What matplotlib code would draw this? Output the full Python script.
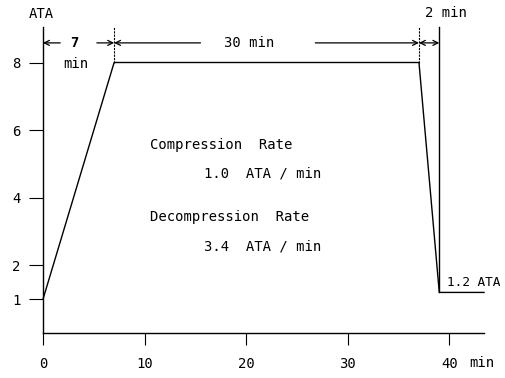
import numpy as np
import matplotlib
matplotlib.use("Agg")
import matplotlib.pyplot as plt

# pressure profile (minutes, ATA)
time_pts = [0, 7, 37, 39, 43.4]
ata_pts = [1, 8, 8, 1.2, 1.2]

x_ticks = [0, 10, 20, 30, 40]
x_ticklabels = ["0", "10", "20", "30", "40"]
y_ticks = [1, 2, 4, 6, 8]
y_ticklabels = ["1", "2", "4", "6", "8"]

# phase boundaries for the dimension arrows
phase_edges = [0, 7, 37, 39]
dim_y = 8.58

plt.rcParams['font.family'] = ['DejaVu Sans Mono']
plt.rcParams['font.size'] = 10

fig = plt.figure(figsize=(5.05, 3.78), dpi=100)
ax = fig.add_axes([43 / 505, 1 - 333 / 378, 441 / 505, 306 / 378])
ax.set_xlim(0, 43.4)
ax.set_ylim(0, 9.05)

for s in ['top', 'right']:
    ax.spines[s].set_visible(False)
ax.spines['left'].set_linewidth(1.0)
ax.spines['bottom'].set_linewidth(1.0)

ax.set_xticks(x_ticks)
ax.set_xticklabels(x_ticklabels)
ax.set_yticks(y_ticks)
ax.set_yticklabels(y_ticklabels)
ax.tick_params(axis='x', direction='out', length=8.5, width=0.8, pad=9)
ax.tick_params(axis='y', direction='out', length=10, width=0.8, pad=6)

# profile
ax.plot(time_pts, ata_pts, color='black', lw=1.0, clip_on=False)

# boundary lines at top
ax.plot([7, 7], [8, 9.05], color='black', lw=0.8, ls=(0, (2, 1)), clip_on=False)
ax.plot([37, 37], [8, 9.05], color='black', lw=0.8, ls=(0, (2, 1)), clip_on=False)
ax.plot([39, 39], [1.2, 9.05], color='black', lw=1.0, clip_on=False)

arr = dict(arrowstyle='->', lw=0.9, color='black', shrinkA=0, shrinkB=0,
           mutation_scale=9)
# 7 min
ax.annotate('', xy=(0, dim_y), xytext=(1.7, dim_y), arrowprops=arr)
ax.annotate('', xy=(7, dim_y), xytext=(5.3, dim_y), arrowprops=arr)
ax.text(3.1, dim_y, '7', ha='center', va='center', fontweight='bold')
ax.text(3.2, 7.95, 'min', ha='center', va='center')
# 30 min
ax.annotate('', xy=(7, dim_y), xytext=(15.5, dim_y), arrowprops=arr)
ax.annotate('', xy=(37, dim_y), xytext=(26.8, dim_y), arrowprops=arr)
ax.text(20.3, dim_y, '30 min', ha='center', va='center')
# 2 min
arr2 = dict(arr)
arr2['arrowstyle'] = '<->'
ax.annotate('', xy=(37, dim_y), xytext=(39, dim_y), arrowprops=arr2)
ax.text(39.7, 9.47, '2 min', ha='center', va='center')

ax.text(-0.2, 9.44, 'ATA', ha='center', va='center')
ax.text(39.8, 1.48, '1.2 ATA', ha='left', va='center', fontsize=9.2)
ax.text(43.15, -0.88, 'min', ha='center', va='center', clip_on=False)

ax.text(10.5, 5.56, 'Compression  Rate', ha='left', va='center')
ax.text(15.8, 4.73, '1.0  ATA / min', ha='left', va='center')
ax.text(10.5, 3.43, 'Decompression  Rate', ha='left', va='center')
ax.text(15.8, 2.57, '3.4  ATA / min', ha='left', va='center')

fig.savefig('out.png', dpi=100)
